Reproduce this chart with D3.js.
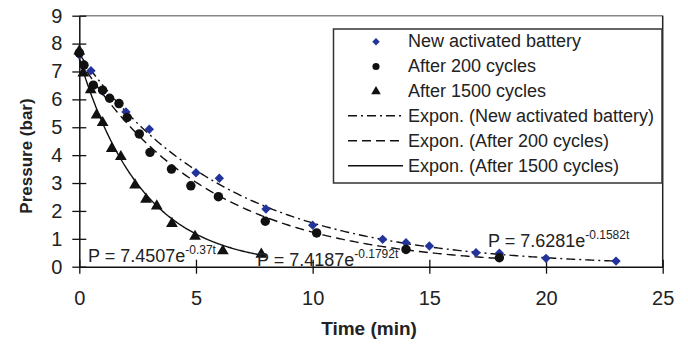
<!DOCTYPE html>
<html>
<head>
<meta charset="utf-8">
<script src="https://cdn.jsdelivr.net/npm/d3@7"></script>
<style>
  body { margin: 0; background: #fff; }
  svg { display: block; font-family: Arial, "Liberation Sans", sans-serif; }
</style>
</head>
<body>
<div id="chart"></div>
<script>
// --- data ---
const newTime = [0, 0.5, 1, 2, 3, 5, 6, 8, 10, 13, 14, 15, 17, 18, 20, 23];
const newPressure = [7.6, 7.03, 6.3, 5.55, 4.93, 3.37, 3.17, 2.07, 1.49, 0.98, 0.86, 0.74, 0.5, 0.48, 0.3, 0.2];

const c200Time = [0, 0.2, 0.6, 1, 1.3, 1.7, 2.05, 2.57, 3.03, 3.95, 4.78, 5.96, 7.97, 10.17, 14, 18];
const c200Pressure = [7.67, 7.23, 6.51, 6.33, 6.04, 5.85, 5.35, 4.76, 4.1, 3.5, 2.9, 2.51, 1.63, 1.21, 0.62, 0.32];

const c1500Time = [0, 0.17, 0.49, 0.74, 1, 1.39, 1.78, 2.39, 2.86, 3.32, 3.97, 4.96, 6.15, 7.8];
const c1500Pressure = [7.77, 6.98, 6.38, 5.47, 5.2, 4.27, 3.98, 2.96, 2.45, 2.21, 1.58, 1.12, 0.6, 0.48];

// exponential trendlines P = a * e^(b t), as printed on the chart
const fitA = [7.6281, 7.4187, 7.4507];
const fitB = [-0.1582, -0.1792, -0.37];
const fitEnd = [23, 18, 7.8];
const fitLabelMain = ['P = 7.6281e', 'P = 7.4187e', 'P = 7.4507e'];
const fitLabelSup = ['-0.1582t', '-0.1792t', '-0.37t'];

const legendLabels = ['New activated battery', 'After 200 cycles', 'After 1500 cycles',
  'Expon. (New activated battery)', 'Expon. (After 200 cycles)', 'Expon. (After 1500 cycles)'];

const xTicks = [0, 5, 10, 15, 20, 25];
const yTicks = [0, 1, 2, 3, 4, 5, 6, 7, 8, 9];

// --- layout ---
const W = 688, H = 345;
const blue = '#22339a';
const dashes = ['9,4,2,4', '9,5', null];

const svg = d3.select('#chart').append('svg').attr('width', W).attr('height', H);

const x = d3.scaleLinear().domain([0, 25]).range([79.3, 662.7]);
const y = d3.scaleLinear().domain([0, 9]).range([266.7, 15.7]);

// top border (grey) and right border
svg.append('line')
  .attr('x1', x(0)).attr('x2', x(25)).attr('y1', y(9)).attr('y2', y(9))
  .attr('stroke', '#888').attr('stroke-width', 1.5);
svg.append('line')
  .attr('x1', x(25)).attr('x2', x(25)).attr('y1', y(9)).attr('y2', y(0))
  .attr('stroke', '#222').attr('stroke-width', 1.5);

// axes
const gx = svg.append('g')
  .attr('transform', `translate(0,${y(0)})`)
  .call(d3.axisBottom(x).tickValues(xTicks).tickSize(7).tickPadding(17).tickSizeOuter(0));
gx.selectAll('.tick line').attr('y1', -7);

const gy = svg.append('g')
  .attr('transform', `translate(${x(0)},0)`)
  .call(d3.axisLeft(y).tickValues(yTicks).tickSize(7).tickPadding(10).tickSizeOuter(0));
gy.selectAll('.tick line').attr('x1', 7);

svg.selectAll('.domain').attr('stroke', '#111').attr('stroke-width', 1.5);
svg.selectAll('.tick line').attr('stroke', '#111').attr('stroke-width', 1.3);
svg.selectAll('.tick text').attr('font-size', 20).attr('fill', '#222')
  .attr('font-family', 'Arial, "Liberation Sans", sans-serif');

// axis titles
svg.append('text')
  .attr('x', 369).attr('y', 335)
  .attr('text-anchor', 'middle').attr('font-weight', 'bold').attr('font-size', 19)
  .attr('fill', '#222').text('Time (min)');

svg.append('text')
  .attr('transform', 'translate(32,156) rotate(-90)')
  .attr('text-anchor', 'middle').attr('font-weight', 'bold').attr('font-size', 17)
  .attr('fill', '#222').text('Pressure (bar)');

// trendlines
const line = d3.line().x(d => x(d[0])).y(d => y(d[1]));
fitA.forEach((a, i) => {
  const pts = d3.range(0, 201).map(k => {
    const t = fitEnd[i] * k / 200;
    return [t, a * Math.exp(fitB[i] * t)];
  });
  svg.append('path')
    .datum(pts)
    .attr('d', line)
    .attr('fill', 'none')
    .attr('stroke', '#111')
    .attr('stroke-width', 1.4)
    .attr('stroke-dasharray', dashes[i]);
});

// markers (diamond = square turned 45 degrees)
const diamond = d3.symbol().type(d3.symbolSquare).size(44);
const circle = d3.symbol().type(d3.symbolCircle).size(70);
const triangle = d3.symbol().type(d3.symbolTriangle).size(60);

svg.append('g').selectAll('path')
  .data(newTime.map((t, i) => [t, newPressure[i]]))
  .join('path')
  .attr('d', diamond)
  .attr('transform', d => `translate(${x(d[0])},${y(d[1])}) rotate(45)`)
  .attr('fill', blue);

svg.append('g').selectAll('path')
  .data(c200Time.map((t, i) => [t, c200Pressure[i]]))
  .join('path')
  .attr('d', circle)
  .attr('transform', d => `translate(${x(d[0])},${y(d[1])})`)
  .attr('fill', '#111');

svg.append('g').selectAll('path')
  .data(c1500Time.map((t, i) => [t, c1500Pressure[i]]))
  .join('path')
  .attr('d', triangle)
  .attr('transform', d => `translate(${x(d[0])},${y(d[1]) + 1})`)
  .attr('fill', '#111');

// equation labels
const eqPos = [[488, 247], [257, 265.5], [88, 261.5]];
fitLabelMain.forEach((txt, i) => {
  const t = svg.append('text')
    .attr('x', eqPos[i][0]).attr('y', eqPos[i][1])
    .attr('font-size', 18).attr('fill', '#222');
  t.append('tspan').text(txt);
  t.append('tspan').attr('dy', -8).attr('font-size', 12).text(fitLabelSup[i]);
});

// legend
const lg = svg.append('g');
lg.append('rect')
  .attr('x', 333.5).attr('y', 29).attr('width', 328.5).attr('height', 154)
  .attr('fill', '#fff').attr('stroke', '#333').attr('stroke-width', 1.5);

const rowY = [40.7, 65.5, 90.5, 115.7, 140.7, 165.7];
const legSymbols = [
  d3.symbol().type(d3.symbolSquare).size(28),
  d3.symbol().type(d3.symbolCircle).size(40),
  d3.symbol().type(d3.symbolTriangle).size(40)
];
const legRotate = [45, 0, 0];
const legFill = [blue, '#111', '#111'];

legendLabels.forEach((lab, i) => {
  if (i < 3) {
    lg.append('path')
      .attr('d', legSymbols[i])
      .attr('transform', `translate(376,${rowY[i] + 1}) rotate(${legRotate[i]})`)
      .attr('fill', legFill[i]);
  } else {
    lg.append('line')
      .attr('x1', 348).attr('x2', 403)
      .attr('y1', rowY[i]).attr('y2', rowY[i])
      .attr('stroke', '#111').attr('stroke-width', 1.4)
      .attr('stroke-dasharray', dashes[i - 3]);
  }
  lg.append('text')
    .attr('x', 408).attr('y', rowY[i])
    .attr('dy', '0.35em')
    .attr('font-size', 18).attr('fill', '#222')
    .text(lab);
});
</script>
</body>
</html>
